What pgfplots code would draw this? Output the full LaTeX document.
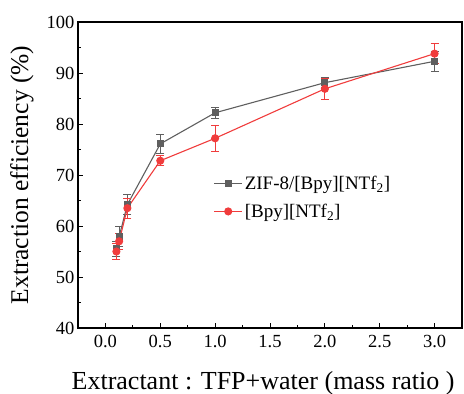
\documentclass[border=0pt]{standalone}
\usepackage{pgfplots}
\pgfplotsset{compat=1.18}
\usepackage{fontspec}
\setmainfont{Liberation Serif}
\definecolor{zgray}{RGB}{95,95,95}
\definecolor{bred}{RGB}{240,60,60}
\begin{document}
\begin{tikzpicture}
\begin{axis}[
  scale only axis, width=384bp, height=306bp,
  xmin=-0.25, xmax=3.25, ymin=40, ymax=100,
  xtick={0,0.5,...,3}, ytick={40,50,...,100},
  minor x tick num=1, minor y tick num=1,
  xticklabel style={/pgf/number format/fixed,/pgf/number format/fixed zerofill,/pgf/number format/precision=1},
  /pgf/number format/assume math mode=true,
  tick align=inside, tick pos=left,
  major tick length=5bp, minor tick length=3bp,
  axis line style={line width=1.1bp},
  every tick/.style={line width=0.9bp, black},
  tick label style={font=\fontsize{18.5bp}{20bp}\selectfont},
  xticklabel style={yshift=-4bp},
  every axis y label/.style={at={(axis description cs:-0.146,0.5)}, rotate=90, anchor=center, font=\fontsize{25.5bp}{27bp}\selectfont},
  every axis x label/.style={at={(axis description cs:0.482,-0.18)}, anchor=center, font=\fontsize{26bp}{28bp}\selectfont},
  xlabel={Extractant : TFP+water (mass ratio )},
  ylabel={Extraction efficiency (\%)},
  legend style={draw=none, fill=none, at={(axis description cs:0.345,0.51)}, anchor=north west, font=\fontsize{19bp}{21bp}\selectfont, row sep=9bp},
  legend cell align=left,
  legend image code/.code={\draw[mark repeat=2,mark phase=2,#1] plot coordinates {(0bp,0bp) (14bp,0bp) (28bp,0bp)};},
]
\addplot[zgray, line width=1.1bp, mark=square*, mark size=3bp, mark options={solid},
  error bars/.cd, y dir=both, y explicit, error bar style={line width=0.9bp}, error mark options={rotate=90, mark size=4bp, line width=0.9bp}]
  table[x=x, y=y, y error=e] {
x y e
0.1 55.5 1.5
0.125 57.9 2.0
0.2 64.2 2.0
0.5 76.1 1.8
1.0 82.2 1.1
2.0 88.1 1.0
3.0 92.3 2.0
};
\addlegendentry{ZIF-8/[Bpy][NTf\textsubscript{2}]}
\addplot[bred, line width=1.1bp, mark=*, mark size=3.5bp, mark options={solid},
  error bars/.cd, y dir=both, y explicit, error bar style={line width=0.9bp}, error mark options={rotate=90, mark size=4bp, line width=0.9bp}]
  table[x=x, y=y, y error=e] {
x y e
0.1 55.0 1.5
0.125 57.0 1.5
0.2 63.5 2.0
0.5 72.8 1.0
1.0 77.2 2.5
2.0 86.9 2.0
3.0 93.8 1.9
};
\addlegendentry{[Bpy][NTf\textsubscript{2}]}
\end{axis}
\pgfresetboundingbox
\path (-78bp,-66bp) rectangle (386bp,328bp);
\end{tikzpicture}
\end{document}
